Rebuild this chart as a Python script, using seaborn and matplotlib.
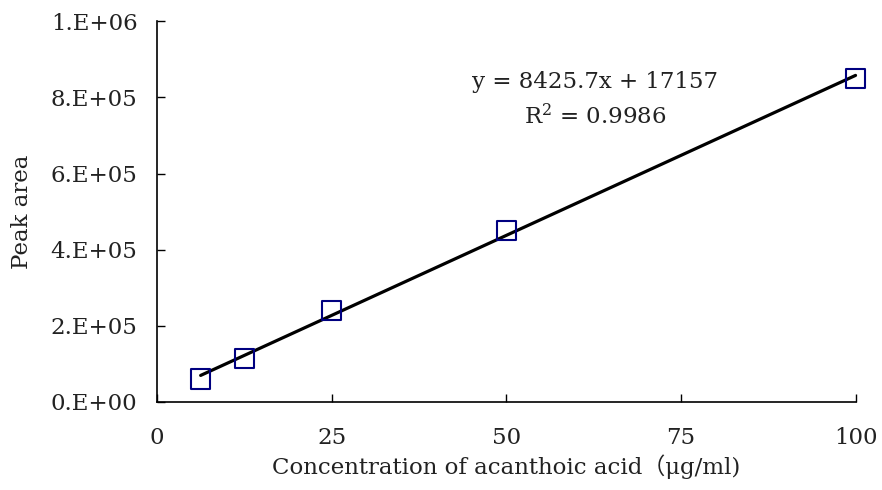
import numpy as np
import pandas as pd
import seaborn as sns
import matplotlib.pyplot as plt

# calibration data
conc = [6.25, 12.5, 25, 50, 100]
area = [60000, 115000, 240000, 450000, 850000]
x_ticks = [0, 25, 50, 75, 100]
y_ticks = [0, 2e5, 4e5, 6e5, 8e5, 1e6]
y_tick_labels = ["0.E+00", "2.E+05", "4.E+05", "6.E+05", "8.E+05", "1.E+06"]
eq_text = "y = 8425.7x + 17157"
r2_text = r"R$^2$ = 0.9986"

data = pd.DataFrame({"conc": conc, "area": area})

sns.set_theme(style="ticks")
plt.rcParams["font.family"] = ["DejaVu Serif", "Noto Sans CJK KR"]
plt.rcParams["mathtext.fontset"] = "dejavuserif"

fs = 16.5

fig = plt.figure(figsize=(8.82, 4.90), dpi=100)
ax = fig.add_axes([0.178, 0.1796, 0.792, 0.777])

sns.regplot(
    data=data, x="conc", y="area", ax=ax, ci=None, truncate=True,
    marker="s",
    scatter_kws=dict(color="#000080", facecolors="none", s=195,
                     linewidths=1.5, alpha=1, zorder=3, clip_on=False),
    line_kws=dict(color="black", lw=2.3, zorder=2, clip_on=False),
)

ax.set_xlim(0, 100)
ax.set_ylim(0, 1e6)
ax.set_xticks(x_ticks)
ax.set_xticklabels([str(t) for t in x_ticks])
ax.set_yticks(y_ticks)
ax.set_yticklabels(y_tick_labels)
ax.tick_params(axis="both", direction="in", length=6, width=1, colors="black",
               labelcolor="#222222", labelsize=fs)
ax.tick_params(axis="x", pad=18)
ax.tick_params(axis="y", pad=14)

for s in ["top", "right"]:
    ax.spines[s].set_visible(False)
for s in ["left", "bottom"]:
    ax.spines[s].set_color("black")
    ax.spines[s].set_linewidth(1.2)

ax.set_xlabel("Concentration of acanthoic acid（μg/ml)", fontsize=fs,
              labelpad=4, color="#222222")
ax.set_ylabel("Peak area", fontsize=fs, labelpad=13, color="#222222")

ax.text(62.75, 840000, eq_text, ha="center", va="center", fontsize=fs,
        color="#222222")
ax.text(62.75, 750000, r2_text, ha="center", va="center", fontsize=fs,
        color="#222222")

fig.savefig("out.png", dpi=100)
